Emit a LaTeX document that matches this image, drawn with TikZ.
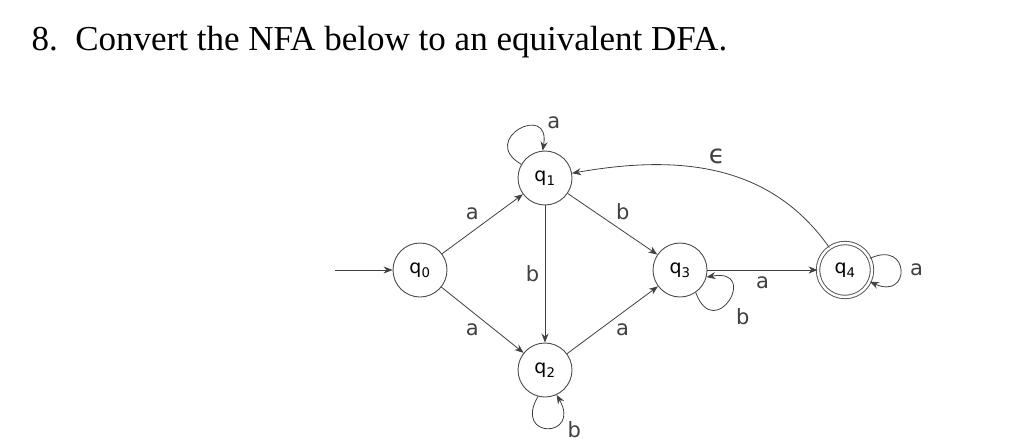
\documentclass[tikz,border=0pt]{standalone}
\usepackage{fontspec}
\setmainfont{Liberation Serif}
\setsansfont{DejaVu Sans}
\usetikzlibrary{arrows.meta}
\begin{document}
\begin{tikzpicture}[x=1pt,y=-1pt,
  st/.style={circle,draw=black!70,line width=0.9pt,minimum size=54pt,inner sep=0pt,font=\sffamily\fontsize{19}{19}\selectfont},
  acc/.style={st,double,double distance=2.5pt},
  tr/.style={-{Stealth[length=9pt,width=7pt]},line width=0.8pt,black!75},
  lb/.style={font=\sffamily\fontsize{21}{21}\selectfont}]
\useasboundingbox (0,0) rectangle (1024,447);
\node[anchor=west,font=\fontsize{35}{35}\selectfont] (title) at (28,42) {8.\ \ Convert the NFA below to an equivalent DFA.};
\node[st] (q0) at (420,270) {q\textsubscript{0}};
\node[st] (q1) at (545,178) {q\textsubscript{1}};
\node[st] (q2) at (545,370) {q\textsubscript{2}};
\node[st] (q3) at (680,270) {q\textsubscript{3}};
\node[acc] (q4) at (845,270) {q\textsubscript{4}};
\coordinate (s) at (335,270);
\draw[tr] (s) -- (q0);
\draw[tr] (q0) -- node[lb,above left=0pt] {a} (q1);
\draw[tr] (q0) -- node[lb,below left=0pt] {a} (q2);
\draw[tr] (q1) -- node[lb,left=2pt] {b} (q2);
\draw[tr] (q1) -- node[lb,above right=0pt] {b} (q3);
\draw[tr] (q2) -- node[lb,below right=0pt] {a} (q3);
\draw[tr] (q3) -- node[lb,below=3pt] {a} (q4);
\draw[tr] (q4) to[out=125,in=10] node[lb,above=4pt,pos=0.5,font=\sffamily\fontsize{26}{26}\selectfont] {ϵ} (q1);
\draw[tr] (q1.150) to[out=150,in=80,distance=50pt] node[lb,pos=0.85,above right=2pt] {a} (q1.95);
\draw[tr] (q2.255) to[out=240,in=300,distance=50pt] node[lb,pos=0.8,below right=2pt] {b} (q2.295);
\draw[tr] (q3.305) to[out=290,in=10,distance=55pt] node[lb,pos=0.5,below right=4pt] {b} (q3.345);
\draw[tr] (q4.25) to[out=25,in=335,distance=45pt] node[lb,right=6pt] {a} (q4.335);
\end{tikzpicture}
\end{document}
